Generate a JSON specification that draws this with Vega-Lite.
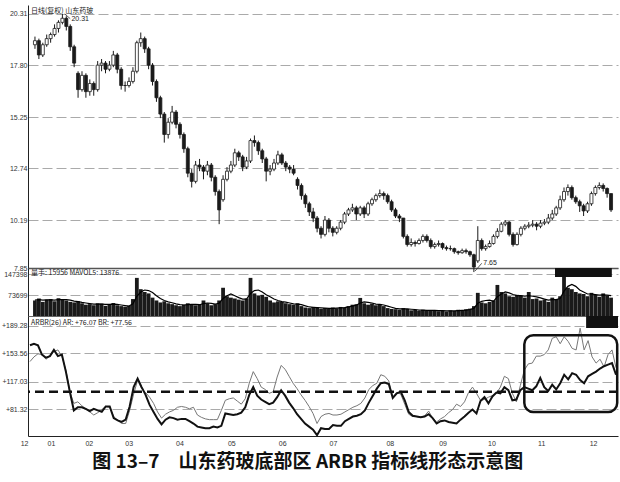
{
  "$schema": "https://vega.github.io/schema/vega-lite/v6.json",
  "background": "white",
  "padding": {"left": 1, "top": 5, "right": 3, "bottom": 0},
  "bounds": "flush",
  "config": {
    "view": {"stroke": null},
    "concat": {"spacing": 0},
    "axis": {"labelFont": "Liberation Sans", "labelFontSize": 7, "labelColor": "#333", "ticks": false, "domainColor": "#222", "gridColor": "#aaa", "gridDash": [10, 4], "labelPadding": 1, "labelOverlap": false},
    "title": {"font": "Noto Sans CJK SC", "fontWeight": "normal", "fontSize": 7, "color": "#222"}
  },
  "title": {"text": "图 13–7　山东药玻底部区 ARBR 指标线形态示意图", "orient": "bottom", "anchor": "middle", "fontSize": 19, "fontWeight": "bold", "font": "Noto Sans CJK SC", "color": "#111", "offset": 7, "dx": -3},
  "datasets": {
    "d": [
      {"i":0,"o":18.8,"h":19.2,"l":18.6,"c":19.0,"v":55,"m":56,"ar":164,"br":143},
      {"i":1,"o":19.0,"h":19.1,"l":18.1,"c":18.3,"v":62,"m":58,"ar":166,"br":149},
      {"i":2,"o":18.3,"h":18.9,"l":18.2,"c":18.8,"v":50,"m":56,"ar":164,"br":153},
      {"i":3,"o":18.8,"h":19.3,"l":18.7,"c":19.1,"v":58,"m":57,"ar":152,"br":152},
      {"i":4,"o":19.1,"h":19.4,"l":18.9,"c":19.3,"v":60,"m":57,"ar":148,"br":146},
      {"i":5,"o":19.3,"h":19.8,"l":19.2,"c":19.6,"v":52,"m":56,"ar":150,"br":150},
      {"i":6,"o":19.6,"h":20.0,"l":19.4,"c":19.9,"v":63,"m":58,"ar":158,"br":156},
      {"i":7,"o":19.9,"h":20.31,"l":19.8,"c":20.1,"v":58,"m":58,"ar":150,"br":158},
      {"i":8,"o":20.1,"h":20.2,"l":19.5,"c":19.7,"v":55,"m":58,"ar":152,"br":150},
      {"i":9,"o":19.7,"h":19.8,"l":18.5,"c":18.7,"v":50,"m":56,"ar":130,"br":132},
      {"i":10,"o":18.7,"h":18.8,"l":17.7,"c":17.9,"v":48,"m":53,"ar":104,"br":104},
      {"i":11,"o":17.4,"h":17.5,"l":16.2,"c":16.6,"v":52,"m":51,"ar":80,"br":89},
      {"i":12,"o":16.6,"h":17.5,"l":16.5,"c":17.3,"v":45,"m":48,"ar":84,"br":91},
      {"i":13,"o":17.3,"h":17.4,"l":16.2,"c":16.5,"v":40,"m":46,"ar":84,"br":86},
      {"i":14,"o":16.5,"h":17.1,"l":16.3,"c":16.9,"v":42,"m":44,"ar":82,"br":82},
      {"i":15,"o":16.9,"h":17.0,"l":16.3,"c":16.6,"v":38,"m":42,"ar":79,"br":78},
      {"i":16,"o":16.6,"h":18.0,"l":16.5,"c":17.8,"v":45,"m":42,"ar":82,"br":74},
      {"i":17,"o":17.8,"h":18.1,"l":17.5,"c":17.9,"v":44,"m":42,"ar":80,"br":77},
      {"i":18,"o":17.9,"h":18.0,"l":17.4,"c":17.6,"v":36,"m":41,"ar":78,"br":81},
      {"i":19,"o":17.6,"h":18.0,"l":17.5,"c":17.8,"v":40,"m":41,"ar":85,"br":85},
      {"i":20,"o":17.8,"h":18.5,"l":17.7,"c":18.3,"v":46,"m":42,"ar":85,"br":84},
      {"i":21,"o":18.3,"h":18.4,"l":17.4,"c":17.6,"v":38,"m":41,"ar":70,"br":72},
      {"i":22,"o":17.6,"h":17.7,"l":16.6,"c":16.8,"v":35,"m":39,"ar":67,"br":67},
      {"i":23,"o":16.8,"h":17.0,"l":16.5,"c":16.8,"v":33,"m":37,"ar":65,"br":63},
      {"i":24,"o":16.8,"h":17.2,"l":16.7,"c":17.0,"v":36,"m":35,"ar":68,"br":63},
      {"i":25,"o":17.0,"h":17.7,"l":16.9,"c":17.5,"v":60,"m":43,"ar":85,"br":80},
      {"i":26,"o":17.5,"h":19.0,"l":17.4,"c":18.9,"v":135,"m":70,"ar":110,"br":101},
      {"i":27,"o":18.9,"h":19.4,"l":18.7,"c":19.1,"v":95,"m":85,"ar":121,"br":119},
      {"i":28,"o":19.1,"h":19.2,"l":18.4,"c":18.6,"v":85,"m":92,"ar":110,"br":108},
      {"i":29,"o":18.6,"h":18.7,"l":17.6,"c":17.8,"v":80,"m":90,"ar":100,"br":103},
      {"i":30,"o":17.8,"h":17.9,"l":16.8,"c":17.0,"v":65,"m":83,"ar":87,"br":97},
      {"i":31,"o":17.0,"h":17.1,"l":16.0,"c":16.2,"v":55,"m":72,"ar":78,"br":89},
      {"i":32,"o":16.2,"h":16.3,"l":15.2,"c":15.4,"v":48,"m":62,"ar":69,"br":78},
      {"i":33,"o":15.4,"h":15.5,"l":14.0,"c":14.4,"v":52,"m":55,"ar":62,"br":70},
      {"i":34,"o":14.4,"h":15.2,"l":14.2,"c":15.0,"v":45,"m":50,"ar":68,"br":75},
      {"i":35,"o":15.0,"h":15.8,"l":14.9,"c":15.5,"v":42,"m":47,"ar":71,"br":78},
      {"i":36,"o":15.5,"h":15.6,"l":14.7,"c":14.9,"v":38,"m":43,"ar":70,"br":80},
      {"i":37,"o":14.9,"h":15.0,"l":14.2,"c":14.4,"v":35,"m":40,"ar":68,"br":84},
      {"i":38,"o":14.4,"h":14.5,"l":13.5,"c":13.7,"v":40,"m":39,"ar":69,"br":85},
      {"i":39,"o":13.7,"h":13.8,"l":12.3,"c":12.5,"v":45,"m":40,"ar":69,"br":84},
      {"i":40,"o":12.5,"h":12.7,"l":11.8,"c":12.1,"v":42,"m":41,"ar":66,"br":82},
      {"i":41,"o":12.1,"h":13.1,"l":12.0,"c":12.9,"v":38,"m":41,"ar":63,"br":84},
      {"i":42,"o":12.9,"h":13.2,"l":12.6,"c":12.8,"v":40,"m":40,"ar":59,"br":74},
      {"i":43,"o":12.8,"h":12.9,"l":12.2,"c":12.6,"v":55,"m":44,"ar":58,"br":71},
      {"i":44,"o":12.6,"h":13.1,"l":12.4,"c":12.9,"v":45,"m":46,"ar":57,"br":69},
      {"i":45,"o":12.9,"h":13.0,"l":12.1,"c":12.3,"v":38,"m":45,"ar":57,"br":68},
      {"i":46,"o":12.3,"h":12.4,"l":11.4,"c":11.6,"v":42,"m":42,"ar":59,"br":68},
      {"i":47,"o":11.6,"h":11.7,"l":10.0,"c":10.7,"v":55,"m":45,"ar":58,"br":68},
      {"i":48,"o":11.2,"h":12.4,"l":11.1,"c":12.2,"v":100,"m":62,"ar":60,"br":80},
      {"i":49,"o":12.2,"h":12.8,"l":12.1,"c":12.6,"v":70,"m":72,"ar":76,"br":93},
      {"i":50,"o":12.6,"h":13.1,"l":12.5,"c":12.9,"v":65,"m":78,"ar":75,"br":95},
      {"i":51,"o":12.9,"h":13.7,"l":12.8,"c":13.5,"v":62,"m":72,"ar":74,"br":96},
      {"i":52,"o":13.5,"h":13.6,"l":13.1,"c":13.3,"v":58,"m":65,"ar":75,"br":92},
      {"i":53,"o":13.3,"h":13.4,"l":12.6,"c":12.8,"v":55,"m":60,"ar":77,"br":88},
      {"i":54,"o":12.8,"h":13.3,"l":12.7,"c":13.1,"v":62,"m":60,"ar":84,"br":95},
      {"i":55,"o":13.1,"h":14.2,"l":13.0,"c":14.1,"v":135,"m":80,"ar":100,"br":115},
      {"i":56,"o":14.1,"h":14.35,"l":13.8,"c":14.0,"v":80,"m":90,"ar":110,"br":130},
      {"i":57,"o":14.0,"h":14.1,"l":13.4,"c":13.6,"v":72,"m":92,"ar":99,"br":121},
      {"i":58,"o":13.6,"h":13.7,"l":13.0,"c":13.2,"v":75,"m":85,"ar":94,"br":110},
      {"i":59,"o":13.2,"h":13.3,"l":12.1,"c":12.6,"v":68,"m":75,"ar":91,"br":107},
      {"i":60,"o":12.6,"h":12.9,"l":12.4,"c":12.7,"v":55,"m":68,"ar":88,"br":102},
      {"i":61,"o":12.7,"h":13.2,"l":12.6,"c":13.0,"v":48,"m":60,"ar":90,"br":104},
      {"i":62,"o":13.0,"h":13.6,"l":12.9,"c":13.4,"v":52,"m":55,"ar":97,"br":123},
      {"i":63,"o":13.4,"h":13.5,"l":12.9,"c":13.0,"v":50,"m":51,"ar":106,"br":138},
      {"i":64,"o":13.0,"h":13.1,"l":12.6,"c":12.8,"v":45,"m":49,"ar":99,"br":133},
      {"i":65,"o":12.8,"h":12.9,"l":12.5,"c":12.7,"v":42,"m":46,"ar":90,"br":124},
      {"i":66,"o":12.7,"h":12.9,"l":12.4,"c":12.5,"v":40,"m":43,"ar":83,"br":115},
      {"i":67,"o":12.2,"h":12.3,"l":11.7,"c":11.9,"v":45,"m":42,"ar":75,"br":108},
      {"i":68,"o":11.9,"h":12.0,"l":11.2,"c":11.4,"v":35,"m":40,"ar":69,"br":100},
      {"i":69,"o":11.4,"h":11.5,"l":10.8,"c":11.0,"v":30,"m":36,"ar":63,"br":93},
      {"i":70,"o":11.0,"h":11.1,"l":10.4,"c":10.6,"v":28,"m":32,"ar":59,"br":85},
      {"i":71,"o":10.6,"h":10.8,"l":10.1,"c":10.3,"v":32,"m":31,"ar":55,"br":76},
      {"i":72,"o":10.3,"h":10.4,"l":9.6,"c":9.8,"v":30,"m":30,"ar":48,"br":63},
      {"i":73,"o":9.8,"h":9.9,"l":9.3,"c":9.5,"v":25,"m":29,"ar":57,"br":72},
      {"i":74,"o":9.5,"h":10.4,"l":9.4,"c":10.2,"v":28,"m":28,"ar":56,"br":75},
      {"i":75,"o":10.2,"h":10.3,"l":9.6,"c":9.8,"v":26,"m":27,"ar":56,"br":76},
      {"i":76,"o":9.8,"h":9.9,"l":9.4,"c":9.6,"v":30,"m":27,"ar":61,"br":74},
      {"i":77,"o":9.6,"h":9.9,"l":9.5,"c":9.8,"v":27,"m":28,"ar":60,"br":74},
      {"i":78,"o":9.8,"h":10.2,"l":9.7,"c":10.1,"v":32,"m":29,"ar":60,"br":75},
      {"i":79,"o":10.1,"h":10.6,"l":10.0,"c":10.5,"v":30,"m":30,"ar":66,"br":78},
      {"i":80,"o":10.5,"h":10.8,"l":10.4,"c":10.7,"v":35,"m":32,"ar":69,"br":81},
      {"i":81,"o":10.7,"h":11.0,"l":10.6,"c":10.8,"v":40,"m":35,"ar":72,"br":84},
      {"i":82,"o":10.8,"h":10.9,"l":10.2,"c":10.5,"v":42,"m":38,"ar":73,"br":86},
      {"i":83,"o":10.5,"h":10.9,"l":10.4,"c":10.8,"v":64,"m":46,"ar":75,"br":89},
      {"i":84,"o":10.8,"h":10.9,"l":10.3,"c":10.5,"v":45,"m":50,"ar":80,"br":96},
      {"i":85,"o":10.5,"h":11.1,"l":10.4,"c":11.0,"v":40,"m":48,"ar":90,"br":107},
      {"i":86,"o":11.0,"h":11.3,"l":10.9,"c":11.2,"v":44,"m":46,"ar":99,"br":112},
      {"i":87,"o":11.2,"h":11.5,"l":11.1,"c":11.4,"v":38,"m":42,"ar":108,"br":115},
      {"i":88,"o":11.4,"h":11.7,"l":11.3,"c":11.5,"v":42,"m":41,"ar":115,"br":126},
      {"i":89,"o":11.5,"h":11.6,"l":11.2,"c":11.4,"v":35,"m":39,"ar":116,"br":124},
      {"i":90,"o":11.4,"h":11.5,"l":11.0,"c":11.1,"v":28,"m":35,"ar":114,"br":118},
      {"i":91,"o":11.1,"h":11.2,"l":10.6,"c":10.7,"v":25,"m":31,"ar":96,"br":97},
      {"i":92,"o":10.7,"h":10.8,"l":10.3,"c":10.4,"v":24,"m":27,"ar":102,"br":103},
      {"i":93,"o":10.4,"h":10.5,"l":10.1,"c":10.3,"v":22,"m":25,"ar":104,"br":101},
      {"i":94,"o":10.3,"h":10.3,"l":9.3,"c":9.4,"v":28,"m":25,"ar":93,"br":88},
      {"i":95,"o":9.4,"h":9.5,"l":8.9,"c":9.0,"v":25,"m":25,"ar":78,"br":75},
      {"i":96,"o":9.0,"h":9.3,"l":8.9,"c":9.1,"v":20,"m":24,"ar":73,"br":72},
      {"i":97,"o":9.1,"h":9.2,"l":8.9,"c":9.05,"v":22,"m":23,"ar":72,"br":72},
      {"i":98,"o":9.05,"h":9.3,"l":9.0,"c":9.2,"v":18,"m":21,"ar":71,"br":71},
      {"i":99,"o":9.2,"h":9.5,"l":9.1,"c":9.4,"v":22,"m":21,"ar":72,"br":73},
      {"i":100,"o":9.4,"h":9.5,"l":9.1,"c":9.2,"v":20,"m":20,"ar":75,"br":79},
      {"i":101,"o":9.2,"h":9.3,"l":8.8,"c":8.9,"v":18,"m":20,"ar":70,"br":70},
      {"i":102,"o":8.9,"h":9.1,"l":8.8,"c":9.0,"v":21,"m":20,"ar":63,"br":65},
      {"i":103,"o":9.0,"h":9.2,"l":8.9,"c":9.05,"v":17,"m":19,"ar":66,"br":69},
      {"i":104,"o":9.05,"h":9.1,"l":8.75,"c":8.85,"v":19,"m":19,"ar":67,"br":72},
      {"i":105,"o":8.85,"h":8.95,"l":8.7,"c":8.8,"v":16,"m":18,"ar":65,"br":77},
      {"i":106,"o":8.8,"h":8.95,"l":8.7,"c":8.8,"v":20,"m":18,"ar":64,"br":81},
      {"i":107,"o":8.8,"h":8.85,"l":8.55,"c":8.65,"v":18,"m":18,"ar":63,"br":88},
      {"i":108,"o":8.65,"h":8.7,"l":8.5,"c":8.6,"v":22,"m":19,"ar":68,"br":85},
      {"i":109,"o":8.6,"h":8.8,"l":8.55,"c":8.7,"v":20,"m":20,"ar":72,"br":91},
      {"i":110,"o":8.7,"h":8.8,"l":8.55,"c":8.65,"v":24,"m":21,"ar":77,"br":103},
      {"i":111,"o":8.65,"h":8.7,"l":8.4,"c":8.5,"v":26,"m":23,"ar":81,"br":110},
      {"i":112,"o":8.5,"h":8.55,"l":7.65,"c":7.9,"v":35,"m":27,"ar":76,"br":102},
      {"i":113,"o":8.2,"h":9.9,"l":8.1,"c":9.2,"v":82,"m":45,"ar":92,"br":93},
      {"i":114,"o":9.2,"h":9.3,"l":8.7,"c":8.8,"v":48,"m":52,"ar":97,"br":94},
      {"i":115,"o":8.8,"h":9.0,"l":8.7,"c":8.9,"v":45,"m":55,"ar":89,"br":97},
      {"i":116,"o":8.9,"h":9.2,"l":8.85,"c":9.05,"v":50,"m":56,"ar":98,"br":99},
      {"i":117,"o":9.05,"h":9.5,"l":9.0,"c":9.4,"v":55,"m":52,"ar":103,"br":102},
      {"i":118,"o":9.4,"h":9.8,"l":9.3,"c":9.65,"v":110,"m":68,"ar":102,"br":110},
      {"i":119,"o":9.65,"h":10.1,"l":9.6,"c":10.0,"v":85,"m":78,"ar":110,"br":124},
      {"i":120,"o":10.0,"h":10.2,"l":9.9,"c":10.1,"v":80,"m":85,"ar":106,"br":121},
      {"i":121,"o":10.1,"h":10.15,"l":9.4,"c":9.5,"v":70,"m":82,"ar":93,"br":102},
      {"i":122,"o":9.5,"h":9.6,"l":8.9,"c":9.0,"v":68,"m":76,"ar":94,"br":91},
      {"i":123,"o":9.0,"h":9.6,"l":8.95,"c":9.5,"v":75,"m":72,"ar":106,"br":112},
      {"i":124,"o":9.5,"h":9.9,"l":9.4,"c":9.8,"v":72,"m":72,"ar":110,"br":132},
      {"i":125,"o":9.8,"h":10.0,"l":9.7,"c":9.9,"v":65,"m":70,"ar":108,"br":140},
      {"i":126,"o":9.9,"h":10.1,"l":9.8,"c":9.95,"v":85,"m":72,"ar":106,"br":141},
      {"i":127,"o":9.95,"h":10.2,"l":9.85,"c":10.0,"v":60,"m":70,"ar":111,"br":150},
      {"i":128,"o":10.0,"h":10.1,"l":9.7,"c":9.9,"v":62,"m":68,"ar":122,"br":150},
      {"i":129,"o":9.9,"h":10.2,"l":9.8,"c":10.05,"v":55,"m":64,"ar":110,"br":152},
      {"i":130,"o":10.05,"h":10.25,"l":9.95,"c":10.1,"v":58,"m":60,"ar":105,"br":158},
      {"i":131,"o":10.1,"h":10.5,"l":10.0,"c":10.3,"v":50,"m":56,"ar":113,"br":173},
      {"i":132,"o":10.3,"h":10.7,"l":10.2,"c":10.5,"v":65,"m":58,"ar":107,"br":175},
      {"i":133,"o":10.5,"h":10.9,"l":10.4,"c":10.8,"v":60,"m":58,"ar":115,"br":166},
      {"i":134,"o":10.8,"h":11.4,"l":10.7,"c":11.2,"v":70,"m":62,"ar":126,"br":175},
      {"i":135,"o":11.2,"h":11.8,"l":11.1,"c":11.6,"v":152,"m":88,"ar":120,"br":169},
      {"i":136,"o":11.6,"h":11.95,"l":11.4,"c":11.8,"v":100,"m":105,"ar":128,"br":160},
      {"i":137,"o":11.8,"h":11.9,"l":11.2,"c":11.3,"v":95,"m":112,"ar":126,"br":158},
      {"i":138,"o":11.3,"h":11.4,"l":11.0,"c":11.1,"v":85,"m":105,"ar":119,"br":186},
      {"i":139,"o":11.1,"h":11.2,"l":10.6,"c":10.9,"v":80,"m":92,"ar":115,"br":158},
      {"i":140,"o":10.9,"h":11.0,"l":10.4,"c":10.65,"v":78,"m":85,"ar":124,"br":170},
      {"i":141,"o":10.65,"h":11.1,"l":10.55,"c":11.0,"v":70,"m":78,"ar":127,"br":149},
      {"i":142,"o":11.0,"h":11.6,"l":10.9,"c":11.5,"v":82,"m":78,"ar":130,"br":141},
      {"i":143,"o":11.5,"h":11.9,"l":11.4,"c":11.8,"v":75,"m":76,"ar":134,"br":146},
      {"i":144,"o":11.8,"h":12.05,"l":11.7,"c":11.9,"v":68,"m":74,"ar":137,"br":136},
      {"i":145,"o":11.9,"h":12.0,"l":11.6,"c":11.75,"v":80,"m":75,"ar":139,"br":152},
      {"i":146,"o":11.75,"h":11.8,"l":11.3,"c":11.5,"v":72,"m":74,"ar":141,"br":158},
      {"i":147,"o":11.5,"h":11.5,"l":10.6,"c":10.7,"v":65,"m":72,"ar":126,"br":135}
    ],
    "lab": [
      {"t": "20.31", "x": 9.3, "y": 20.06},
      {"t": "7.65", "x": 114.4, "y": 8.09}
    ],
    "lead": [
      {"x": 7.6, "y": 20.31, "x2": 9.0, "y2": 20.08},
      {"x": 112.3, "y": 7.7, "x2": 114.0, "y2": 8.08}
    ],
    "box": [{"x1": 124, "x2": 147.3, "y1": 78, "y2": 177}],
    "blk1": [{"x1": 132.7, "x2": 147.2, "y1": 138, "y2": 170}],
    "blk2": [{"x1": 139.5, "x2": 147.5, "y1": 186.3, "y2": 201.8}],
    "ref": [{"y": 104}]
  },
  "vconcat": [
    {
      "width": 590,
      "height": 263,
      "title": {"text": "日线(复权)  山东药玻", "anchor": "start", "frame": "group", "orient": "top", "offset": -9, "dx": 3},
      "layer": [
        {
          "data": {"name": "d"},
          "mark": {"type": "rule", "color": "#1a1a1a", "strokeWidth": 1},
          "encoding": {
            "x": {"field": "i", "type": "quantitative", "title": null, "scale": {"domain": [-0.5, 147.5], "nice": false, "zero": false},
                  "axis": {"labels": false, "ticks": false, "grid": false, "domainColor": "#555", "domainWidth": 1.5, "minExtent": 0, "maxExtent": 0, "labelPadding": 0}},
            "y": {"field": "l", "type": "quantitative", "title": null, "scale": {"domain": [7.85, 20.75], "nice": false, "zero": false},
                  "axis": {"values": [7.85, 10.19, 12.74, 15.25, 17.8, 20.31], "tickCount": 20, "format": ".2f", "grid": true, "minExtent": 26, "maxExtent": 26}},
            "y2": {"field": "h"}
          }
        },
        {
          "data": {"name": "d"},
          "mark": {"type": "bar", "width": 3, "stroke": "#1a1a1a", "strokeWidth": 0.8},
          "encoding": {
            "x": {"field": "i", "type": "quantitative", "title": null},
            "y": {"field": "o", "type": "quantitative", "title": null},
            "y2": {"field": "c"},
            "fill": {"condition": {"test": "datum.c < datum.o", "value": "#1a1a1a"}, "value": "#ffffff"}
          }
        },
        {
          "data": {"name": "lead"},
          "mark": {"type": "rule", "color": "#333", "strokeWidth": 0.8},
          "encoding": {
            "x": {"field": "x", "type": "quantitative", "title": null},
            "y": {"field": "y", "type": "quantitative", "title": null},
            "x2": {"field": "x2"},
            "y2": {"field": "y2"}
          }
        },
        {
          "data": {"name": "lab"},
          "mark": {"type": "text", "align": "left", "baseline": "middle", "fontSize": 7, "font": "Liberation Sans", "color": "#222"},
          "encoding": {
            "x": {"field": "x", "type": "quantitative", "title": null},
            "y": {"field": "y", "type": "quantitative", "title": null},
            "text": {"field": "t"}
          }
        }
      ]
    },
    {
      "width": 590,
      "height": 48,
      "title": {"text": "量手: 15956  MAVOL5: 13876", "anchor": "start", "frame": "group", "orient": "top", "offset": -8, "dx": 3},
      "layer": [
        {
          "data": {"name": "d"},
          "mark": {"type": "bar", "width": 3.8, "color": "#1a1a1a"},
          "encoding": {
            "x": {"field": "i", "type": "quantitative", "title": null, "scale": {"domain": [-0.5, 147.5], "nice": false, "zero": false},
                  "axis": {"labels": false, "ticks": false, "grid": false, "domainColor": "#666", "domainWidth": 1, "minExtent": 0, "maxExtent": 0, "labelPadding": 0}},
            "y": {"field": "v", "type": "quantitative", "title": null, "scale": {"domain": [0, 170], "nice": false},
                  "axis": {"values": [73.699, 147.398], "tickCount": 20, "labelExpr": "datum.value > 100 ? '147398' : '73699'", "grid": true, "minExtent": 26, "maxExtent": 26}}
          }
        },
        {
          "data": {"name": "d"},
          "mark": {"type": "line", "color": "#000", "strokeWidth": 1.2},
          "encoding": {
            "x": {"field": "i", "type": "quantitative", "title": null},
            "y": {"field": "m", "type": "quantitative", "title": null}
          }
        },
        {
          "data": {"name": "blk1"},
          "mark": {"type": "rect", "color": "#111"},
          "encoding": {
            "x": {"field": "x1", "type": "quantitative", "title": null},
            "x2": {"field": "x2"},
            "y": {"field": "y1", "type": "quantitative", "title": null},
            "y2": {"field": "y2"}
          }
        }
      ]
    },
    {
      "width": 590,
      "height": 120,
      "title": {"text": "ARBR(26) AR: +76.07 BR: +77.56", "anchor": "start", "frame": "group", "orient": "top", "offset": -10, "dx": 3},
      "layer": [
        {
          "data": {"name": "d"},
          "mark": {"type": "line", "color": "#777", "strokeWidth": 1},
          "encoding": {
            "x": {"field": "i", "type": "quantitative", "title": null, "scale": {"domain": [-0.5, 147.5], "nice": false, "zero": false},
                  "axis": {"values": [-0.5, 5.25, 14.75, 24.75, 37.5, 50.5, 63.25, 76, 90.25, 103.5, 115.75, 128.25, 141.25], "tickCount": 30,
                           "labelExpr": "['12','01','02','03','04','05','06','07','08','09','10','11','12'][indexof([-0.5,5.25,14.75,24.75,37.5,50.5,63.25,76,90.25,103.5,115.75,128.25,141.25], datum.value)]",
                           "labelAlign": {"expr": "datum.value < 0 ? 'right' : 'center'"}, "labelFlush": false, "labelOverlap": false, "ticks": false, "labelPadding": 3, "grid": false, "domainColor": "#222"}},
            "y": {"field": "br", "type": "quantitative", "title": null, "scale": {"domain": [46.9, 201.8], "nice": false, "zero": false},
                  "axis": {"values": [81.32, 117.03, 153.56, 189.28], "tickCount": 20, "labelExpr": "'+' + format(datum.value, '.2f')", "grid": true, "labelOverlap": false, "minExtent": 26, "maxExtent": 26}}
          }
        },
        {
          "data": {"name": "d"},
          "mark": {"type": "line", "color": "#111", "strokeWidth": 2},
          "encoding": {
            "x": {"field": "i", "type": "quantitative", "title": null},
            "y": {"field": "ar", "type": "quantitative", "title": null}
          }
        },
        {
          "data": {"name": "ref"},
          "mark": {"type": "rule", "color": "#111", "strokeWidth": 2.6, "strokeDash": [9, 5]},
          "encoding": {
            "y": {"field": "y", "type": "quantitative", "title": null}
          }
        },
        {
          "data": {"name": "box"},
          "mark": {"type": "rect", "fill": "#fff", "fillOpacity": 0, "stroke": "#111", "strokeWidth": 2.5, "cornerRadius": 9},
          "encoding": {
            "x": {"field": "x1", "type": "quantitative", "title": null},
            "x2": {"field": "x2"},
            "y": {"field": "y1", "type": "quantitative", "title": null},
            "y2": {"field": "y2"}
          }
        },
        {
          "data": {"name": "blk2"},
          "mark": {"type": "rect", "color": "#111"},
          "encoding": {
            "x": {"field": "x1", "type": "quantitative", "title": null},
            "x2": {"field": "x2"},
            "y": {"field": "y1", "type": "quantitative", "title": null},
            "y2": {"field": "y2"}
          }
        }
      ]
    }
  ]
}
